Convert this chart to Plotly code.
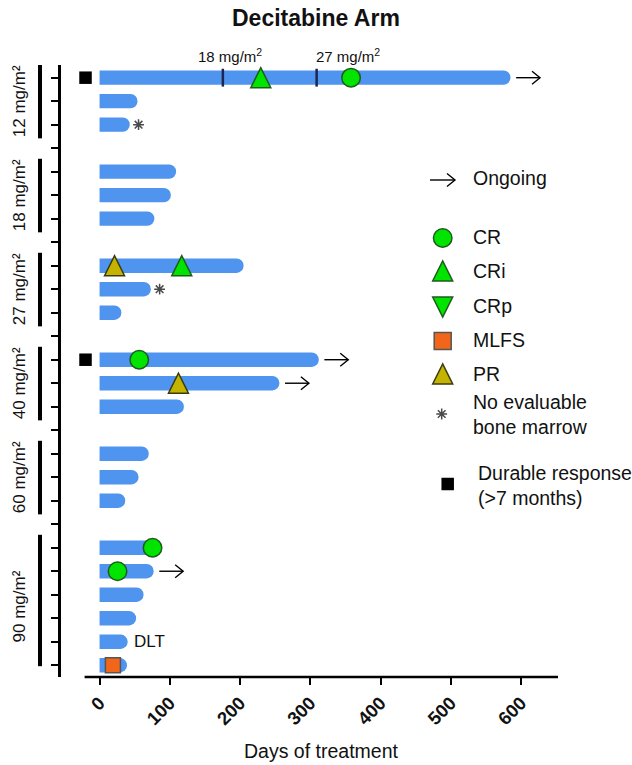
import plotly.graph_objects as go

# ---------------- data ----------------
dose_groups = ["12 mg/m²", "18 mg/m²", "27 mg/m²", "40 mg/m²", "60 mg/m²", "90 mg/m²"]
patients_per_group = [3, 3, 3, 3, 3, 6]

# days on treatment, one value per patient, top to bottom
days_on_treatment = [585, 54, 43,
                     109, 101.5, 78,
                     205, 73, 31,
                     312, 256, 120,
                     70, 55.5, 36.5,
                     78, 77, 62.6, 52, 40, 39]

# responses: patient index + day of response
cr_patients = [0, 9, 15, 16]
cr_days = [358, 56.5, 75.4, 25.6]
cri_patients = [0, 6]
cri_days = [229.5, 117]
pr_patients = [6, 10]
pr_days = [21.3, 112.3]
mlfs_patients = [20]
mlfs_days = [19]
not_evaluable_patients = [2, 7]
durable_patients = [0, 9]
ongoing_patients = [0, 9, 10, 16]
dlt_patients = [19]

# intra-patient dose escalation (patient 0)
escalation_patient = 0
escalation_days = [175.5, 309]
escalation_labels = ["18 mg/m<sup>2</sup>", "27 mg/m<sup>2</sup>"]

x_ticks = [0, 100, 200, 300, 400, 500, 600]

# ---------------- styling ----------------
W, H = 632, 765
M_L, M_R, M_T, M_B = 61, 74, 65, 88
X_RANGE = [-54.9, 652.6]
Y_RANGE = [26.5, 0.46]
FONT = "Liberation Sans, Arial, sans-serif"
TXT = "#111111"

BAR_BLUE = "#4f94ee"
GREEN = "#00e400"
GREEN_EDGE = "#1d5c1d"
OLIVE = "#c4b400"
OLIVE_EDGE = "#3b3a12"
ORANGE = "#f2661a"
ORANGE_EDGE = "#555555"
TICK_NAVY = "#1b2752"
STAR_GREY = "#4a4a4a"

PLOT_W = W - M_L - M_R
PLOT_H = H - M_T - M_B


def px_x(px):
    return (px - M_L) / PLOT_W


def px_y(py):
    return (H - M_B - py) / PLOT_H


def font(size, **kw):
    return dict(family=FONT, size=size, color=TXT, **kw)


# row slot for each patient, with an empty slot between dose groups
rows, group_rows = [], []
slot = 1
for n in patients_per_group:
    grp = list(range(slot, slot + n))
    rows += grp
    group_rows.append(grp)
    slot += n + 1
n_slots = rows[-1]

TRI_UP = "M-10,-10 L10,-10 L0,10 Z"
TRI_DOWN = "M-10,10 L10,10 L0,-10 Z"
CHEVRON = "M-8,6.5 L0,0 L-8,-6.5"
ARROW_LINE = dict(color="black", width=1.4)

fig = go.Figure()

# treatment duration bars
fig.add_trace(go.Bar(
    x=days_on_treatment, y=rows, orientation="h", width=0.61,
    marker=dict(color=BAR_BLUE, line=dict(width=0)),
    hoverinfo="skip"))

# CR circles
fig.add_trace(go.Scatter(
    x=cr_days, y=[rows[p] for p in cr_patients], mode="markers", cliponaxis=False,
    marker=dict(symbol="circle", size=18.5, color=GREEN, line=dict(color=GREEN_EDGE, width=1.5))))

# MLFS squares
fig.add_trace(go.Scatter(
    x=mlfs_days, y=[rows[p] for p in mlfs_patients], mode="markers", cliponaxis=False,
    marker=dict(symbol="square", size=15, color=ORANGE, line=dict(color=ORANGE_EDGE, width=1.5))))

# durable response squares, left of the bars
DURABLE_X = -20
fig.add_trace(go.Scatter(
    x=[DURABLE_X] * len(durable_patients), y=[rows[p] for p in durable_patients],
    mode="markers", cliponaxis=False,
    marker=dict(symbol="square", size=12.5, color="black", line=dict(width=0))))

# no evaluable bone marrow asterisks, just past the bar end
ASTERISK_GAP = 12.5
fig.add_trace(go.Scatter(
    x=[days_on_treatment[p] + ASTERISK_GAP for p in not_evaluable_patients],
    y=[rows[p] for p in not_evaluable_patients], mode="markers", cliponaxis=False,
    marker=dict(symbol="asterisk-open", size=9, color=STAR_GREY,
                line=dict(color=STAR_GREY, width=1.5))))

shapes = []
annotations = []

# triangles (CRi / PR) drawn as fixed-size pixel shapes anchored at data points
for pats, days, fill, edge in [(pr_patients, pr_days, OLIVE, OLIVE_EDGE),
                               (cri_patients, cri_days, GREEN, GREEN_EDGE)]:
    for p, d in zip(pats, days):
        shapes.append(dict(type="path", xref="x", yref="y", xsizemode="pixel", ysizemode="pixel",
                           xanchor=d, yanchor=rows[p], path=TRI_UP, fillcolor=fill,
                           line=dict(color=edge, width=1.5), layer="above"))

# dose escalation ticks on the first bar
r0 = rows[escalation_patient]
for d, lab, shift in zip(escalation_days, escalation_labels, [7, 31]):
    shapes.append(dict(type="line", xref="x", yref="y", x0=d, x1=d, y0=r0 - 0.38, y1=r0 + 0.38,
                       line=dict(color=TICK_NAVY, width=2.5), layer="above"))
    annotations.append(dict(x=d, y=r0, xref="x", yref="y", text=lab, showarrow=False,
                            xanchor="center", yanchor="middle",
                            xshift=shift, yshift=22, font=font(15)))

# ongoing arrows: shaft in data units, chevron head at a fixed pixel size
ARROW_START, ARROW_END = 8, 42
for p in ongoing_patients:
    end = days_on_treatment[p]
    shapes.append(dict(type="line", xref="x", yref="y", x0=end + ARROW_START,
                       x1=end + ARROW_END, y0=rows[p], y1=rows[p], line=ARROW_LINE))
    shapes.append(dict(type="path", xref="x", yref="y", xsizemode="pixel", ysizemode="pixel",
                       xanchor=end + ARROW_END, yanchor=rows[p], path=CHEVRON,
                       line=ARROW_LINE))

# DLT label
for p in dlt_patients:
    annotations.append(dict(x=days_on_treatment[p] + 6, y=rows[p], xref="x", yref="y",
                            text="DLT", showarrow=False, xanchor="left", yanchor="middle",
                            font=font(17)))

# dose group brackets and labels
for lab, grp in zip(dose_groups, group_rows):
    shapes.append(dict(type="line", xref="paper", yref="y", x0=px_x(40), x1=px_x(40),
                       y0=grp[0] - 0.55, y1=min(grp[-1] + 0.58, n_slots + 0.04),
                       line=dict(color="black", width=4)))
    annotations.append(dict(x=px_x(19), y=(grp[0] + grp[-1]) / 2, xref="paper", yref="y",
                            text=lab, textangle=-90, showarrow=False,
                            xanchor="center", yanchor="middle", font=font(17)))

# x axis line (starts just left of day 0)
shapes.append(dict(type="line", xref="x", yref="paper", x0=-21.3, x1=X_RANGE[1], y0=0, y1=0,
                   line=dict(color="black", width=2.5)))

# ---------------- legend (drawn manually) ----------------
LEG_MX = px_x(442.7)
LEG_TX = px_x(470.5)
LEG_SIZE = 19.5

shapes.append(dict(type="line", xref="paper", yref="paper", x0=px_x(430), x1=px_x(455),
                   y0=px_y(180), y1=px_y(180), line=ARROW_LINE))
shapes.append(dict(type="path", xref="paper", yref="paper", xsizemode="pixel", ysizemode="pixel",
                   xanchor=px_x(455), yanchor=px_y(180), path=CHEVRON, line=ARROW_LINE))
annotations.append(dict(x=LEG_TX, y=px_y(178), xref="paper", yref="paper", text="Ongoing",
                        showarrow=False, xanchor="left", yanchor="middle", font=font(LEG_SIZE)))

fig.add_trace(go.Scatter(
    x=[LEG_MX], y=[px_y(238)], xaxis="x2", yaxis="y2", mode="markers", cliponaxis=False,
    marker=dict(symbol="circle", size=18.5, color=GREEN, line=dict(color=GREEN_EDGE, width=1.5))))
shapes.append(dict(type="path", xref="paper", yref="paper", xsizemode="pixel", ysizemode="pixel",
                   xanchor=LEG_MX, yanchor=px_y(271), path=TRI_UP, fillcolor=GREEN,
                   line=dict(color=GREEN_EDGE, width=1.5)))
shapes.append(dict(type="path", xref="paper", yref="paper", xsizemode="pixel", ysizemode="pixel",
                   xanchor=LEG_MX, yanchor=px_y(307), path=TRI_DOWN, fillcolor=GREEN,
                   line=dict(color=GREEN_EDGE, width=1.5)))
fig.add_trace(go.Scatter(
    x=[LEG_MX], y=[px_y(341)], xaxis="x2", yaxis="y2", mode="markers", cliponaxis=False,
    marker=dict(symbol="square", size=17, color=ORANGE, line=dict(color=ORANGE_EDGE, width=1.5))))
shapes.append(dict(type="path", xref="paper", yref="paper", xsizemode="pixel", ysizemode="pixel",
                   xanchor=LEG_MX, yanchor=px_y(374), path=TRI_UP, fillcolor=OLIVE,
                   line=dict(color=OLIVE_EDGE, width=1.5)))
fig.add_trace(go.Scatter(
    x=[px_x(441.7)], y=[px_y(414)], xaxis="x2", yaxis="y2", mode="markers", cliponaxis=False,
    marker=dict(symbol="asterisk-open", size=9, color=STAR_GREY,
                line=dict(color=STAR_GREY, width=1.5))))
fig.add_trace(go.Scatter(
    x=[px_x(447.7)], y=[px_y(484)], xaxis="x2", yaxis="y2", mode="markers", cliponaxis=False,
    marker=dict(symbol="square", size=12.5, color="black", line=dict(width=0))))

legend_texts = [("CR", 237), ("CRi", 271), ("CRp", 306), ("MLFS", 340), ("PR", 374),
                ("No evaluable<br>bone marrow", 414)]
for txt, ypx in legend_texts:
    annotations.append(dict(x=LEG_TX, y=px_y(ypx), xref="paper", yref="paper", text=txt,
                            showarrow=False, xanchor="left", yanchor="middle", align="left",
                            font=font(LEG_SIZE)))
annotations.append(dict(x=px_x(476), y=px_y(485), xref="paper", yref="paper",
                        text="Durable response<br>(>7 months)", showarrow=False,
                        xanchor="left", yanchor="middle", align="left", font=font(LEG_SIZE)))

# title and x-axis title
annotations.append(dict(x=px_x(316), y=px_y(18), xref="paper", yref="paper",
                        text="<b>Decitabine Arm</b>", showarrow=False,
                        xanchor="center", yanchor="middle", font=font(23)))
annotations.append(dict(x=px_x(321), y=px_y(751), xref="paper", yref="paper",
                        text="Days of treatment", showarrow=False,
                        xanchor="center", yanchor="middle", font=font(19.5)))

fig.update_layout(
    width=W, height=H,
    margin=dict(l=M_L, r=M_R, t=M_T, b=M_B, autoexpand=False),
    paper_bgcolor="white", plot_bgcolor="white",
    showlegend=False,
    barcornerradius="50%",
    font=dict(family=FONT, color=TXT),
    xaxis=dict(range=X_RANGE, showgrid=False, zeroline=False, showline=False,
               tickvals=x_ticks, ticks="outside", ticklen=7, tickwidth=2, tickcolor="black",
               tickangle=-45, tickfont=font(18.5, weight="bold")),
    yaxis=dict(range=Y_RANGE, showgrid=False, zeroline=False, showline=True, linewidth=2.5,
               linecolor="black", tickvals=list(range(1, n_slots + 1)), ticks="outside",
               ticklen=7, tickwidth=2, tickcolor="black", showticklabels=False),
    xaxis2=dict(overlaying="x", range=[0, 1], visible=False),
    yaxis2=dict(overlaying="y", range=[0, 1], visible=False),
    shapes=shapes,
    annotations=annotations,
)

fig.write_html("out.html")
